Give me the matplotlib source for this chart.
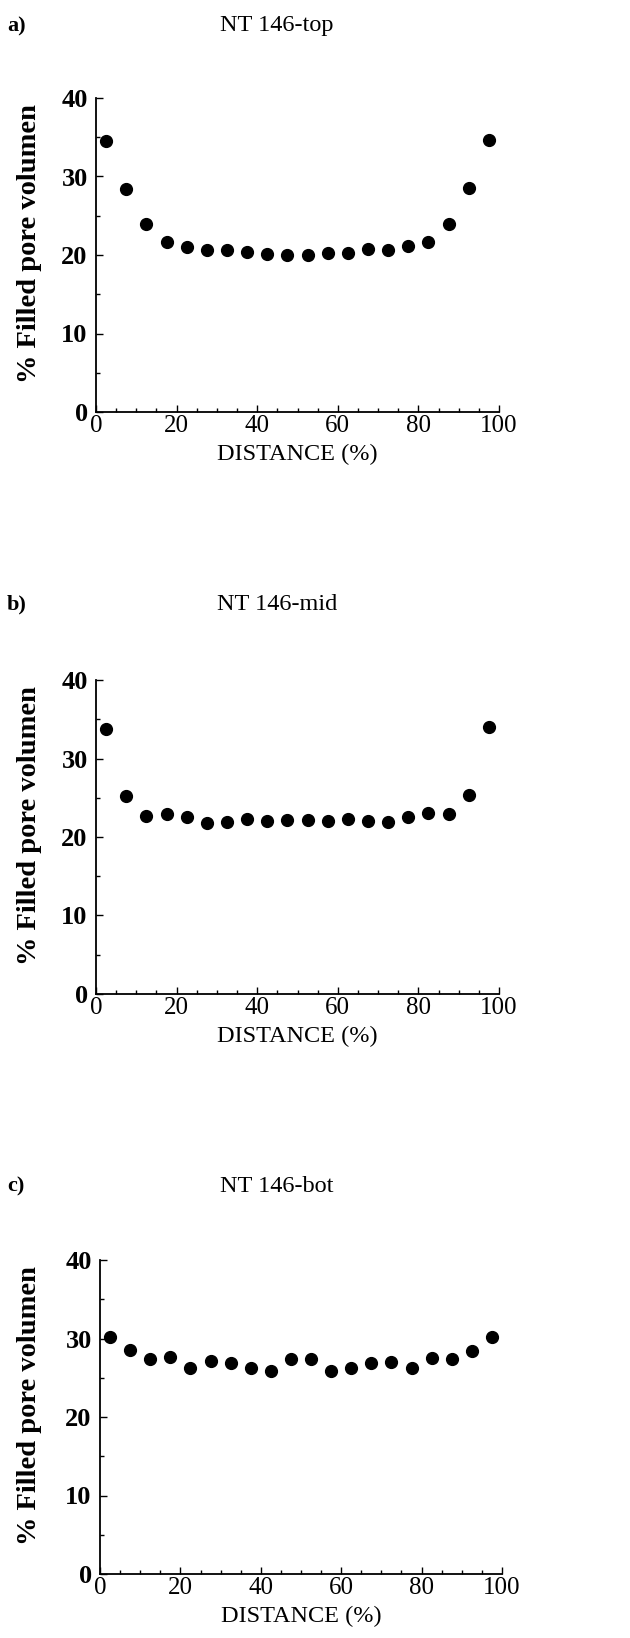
import matplotlib
matplotlib.use('Agg')
import matplotlib.pyplot as plt
from matplotlib.ticker import MultipleLocator

DISTANCE = [2.5, 7.5, 12.5, 17.5, 22.5, 27.5, 32.5, 37.5, 42.5, 47.5,
            52.5, 57.5, 62.5, 67.5, 72.5, 77.5, 82.5, 87.5, 92.5, 97.5]
TOP = [34.5, 28.4, 23.9, 21.6, 21.0, 20.6, 20.7, 20.4, 20.1, 20.0,
       20.0, 20.2, 20.3, 20.8, 20.6, 21.1, 21.7, 24.0, 28.5, 34.6]
MID = [33.8, 25.2, 22.7, 22.9, 22.5, 21.8, 21.9, 22.3, 22.0, 22.2,
       22.2, 22.0, 22.3, 22.0, 21.9, 22.6, 23.0, 22.9, 25.3, 34.0]
BOT = [30.2, 28.5, 27.4, 27.6, 26.3, 27.1, 26.9, 26.3, 25.8, 27.4,
       27.4, 25.8, 26.3, 26.9, 27.0, 26.3, 27.5, 27.4, 28.4, 30.2]
TITLES = ['NT 146-top', 'NT 146-mid', 'NT 146-bot']
LETTERS = ['a)', 'b)', 'c)']
X_TICKS = [0, 20, 40, 60, 80, 100]
Y_TICKS = [0, 10, 20, 30, 40]

plt.rcParams['font.family'] = ['Liberation Serif', 'DejaVu Serif']

W, H = 630, 1638
fig = plt.figure(figsize=(W / 100, H / 100), dpi=100)

# axes boxes in pixels: left, right, top, bottom ; title row y
boxes = [(96, 499, 98, 412, 26), (96, 499, 680, 994, 604), (100, 502, 1260, 1574, 1186)]

for (l, r, t, b, ty), data, title, letter in zip(boxes, [TOP, MID, BOT], TITLES, LETTERS):
    ax = fig.add_axes([l / W, 1 - b / H, (r - l) / W, (b - t) / H])
    ax.plot(DISTANCE, data, 'o', color='black', ms=8.5, clip_on=False)
    ax.set_xlim(0, 100)
    ax.set_ylim(0, 40)
    ax.set_xticks(X_TICKS)
    ax.set_yticks(Y_TICKS)
    ax.xaxis.set_minor_locator(MultipleLocator(5))
    ax.yaxis.set_minor_locator(MultipleLocator(5))
    ax.tick_params(which='both', direction='in', width=1.0, top=False, right=False)
    ax.tick_params(which='major', length=5)
    ax.tick_params(which='minor', length=3)
    ax.tick_params(axis='x', which='major', labelsize=18, pad=2)
    ax.tick_params(axis='y', which='major', labelsize=19, pad=6)
    for lab in ax.get_yticklabels():
        lab.set_fontweight('bold')
    ax.spines['top'].set_visible(False)
    ax.spines['right'].set_visible(False)
    ax.spines['left'].set_linewidth(1.3)
    ax.spines['bottom'].set_linewidth(1.3)
    ax.set_xlabel('DISTANCE (%)', fontsize=17.5, labelpad=5)
    ax.set_ylabel('% Filled pore volumen', fontsize=20.5, fontweight='bold')
    ax.yaxis.set_label_coords((42 - l) / (r - l), 0.535)
    fig.text(7 / W, 1 - ty / H, letter, fontsize=16, fontweight='bold', va='center', ha='left')
    fig.text(277 / W, 1 - ty / H, title, fontsize=17.5, va='center', ha='center')

fig.savefig('out.png', dpi=100)
